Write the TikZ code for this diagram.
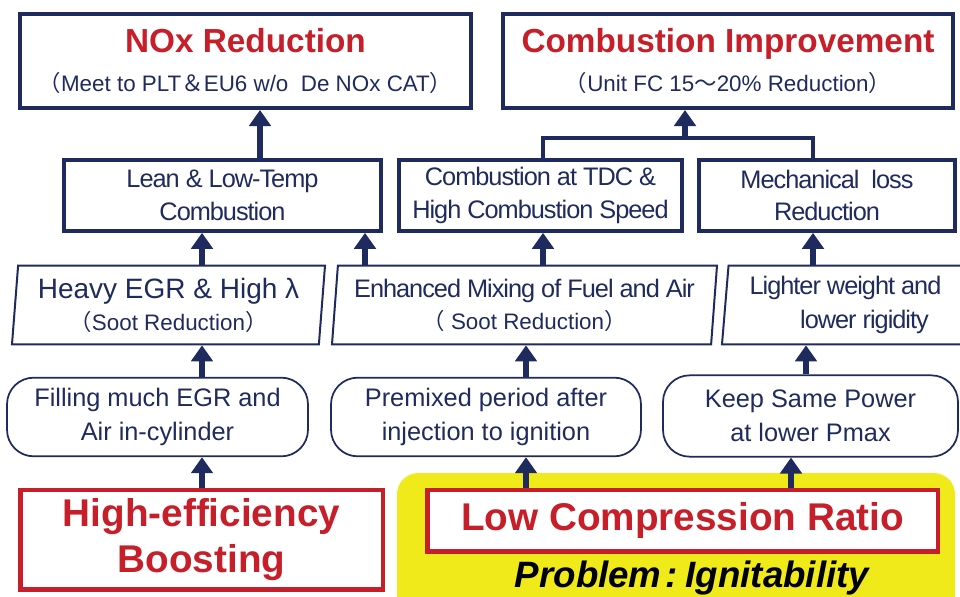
\documentclass[tikz,border=0pt]{standalone}
\usepackage{fontspec}
\setmainfont{Liberation Sans}
\newfontfamily\tightfont{Liberation Sans}[LetterSpace=-4]
\newfontfamily\cjk{Noto Sans CJK JP}
\usetikzlibrary{arrows.meta,shapes.geometric}
\definecolor{navy}{HTML}{1F2A5E}
\definecolor{ired}{HTML}{C61F2A}
\definecolor{hilite}{HTML}{F1EA1B}
\newcommand{\fwl}{{\cjk （}}
\newcommand{\fwr}{{\cjk ）}}

\begin{document}
\begin{tikzpicture}[x=0.75pt, y=-0.75pt, text=navy,
    goal/.style={draw=navy, line width=3pt, inner sep=0pt, align=center, minimum height=70.5pt,
      font=\fontsize{16.8}{29.5}\selectfont},
    effect/.style={draw=navy, line width=3pt, inner sep=0pt, align=center, minimum height=53pt,
      font=\tightfont\fontsize{19}{24.5}\selectfont},
    means/.style={trapezium, trapezium left angle=83.6, trapezium right angle=96.4,
      trapezium stretches body, draw=navy, line width=1.5pt, inner sep=0pt, align=center,
      minimum height=59pt},
    cause/.style={draw=navy, line width=1.3pt, rounded corners=20pt, inner sep=0pt, align=center,
      minimum height=59pt, font=\fontsize{19}{25.5}\selectfont},
    root/.style={draw=ired, line width=3.5pt, fill=white, inner sep=0pt, align=center, text=ired,
      font=\bfseries\fontsize{29}{34}\selectfont},
    arr/.style={draw=navy, line width=4pt, -{Triangle[length=12pt, width=16pt]}},
    bracket/.style={draw=navy, line width=3pt}]
  \useasboundingbox (0,0) rectangle (960,596);
  % yellow field behind the compression ratio box
  \node[fill=hilite, rounded corners=16pt, minimum width=418.5pt, minimum height=114pt] (field) at (676,549) {};

  % targets
  \node[goal, minimum width=338.25pt] (nox) at (245.5,61)
    {{\bfseries\color{ired}\fontsize{25}{29}\selectfont NOx Reduction}\\
     \fwl Meet to PLT{\cjk ＆}EU6 w/o\ \ De NOx CAT\fwr};
  \node[goal, minimum width=337.5pt] (cimp) at (728,61)
    {{\bfseries\color{ired}\fontsize{25}{29}\selectfont Combustion Improvement}\\
     \fwl Unit FC 15{\cjk ～}20\% Reduction\fwr};

  % effects
  \node[effect, minimum width=237.75pt] (lean) at (222.5,195.5) {Lean \& Low-Temp\\Combustion};
  \node[effect, minimum width=212.25pt] (tdc) at (540.5,195.5) {Combustion at TDC \&\\High Combustion Speed};
  \node[effect, minimum width=191.5pt] (mech) at (827,195.5) {Mechanical\ \ loss\\Reduction};

  % means
  \node[means, minimum width=234.75pt, font=\fontsize{16.8}{24}\selectfont] (heavy) at (168.5,305)
    {{\fontsize{21}{24}\selectfont Heavy EGR \& High λ}\\\fwl Soot Reduction\fwr};
  \node[means, minimum width=288.75pt, font=\fontsize{16.8}{24}\selectfont] (mix) at (524.5,305)
    {{\tightfont\fontsize{19}{24}\selectfont Enhanced Mixing of Fuel and Air}\\\fwl\ Soot Reduction\fwr};
  \node[means, minimum width=185.25pt, font=\tightfont\fontsize{19}{26}\selectfont] (light) at (845.5,305)
    {Lighter weight and\\\hspace{1.5em}lower rigidity};

  % causes
  \node[cause, minimum width=225.75pt] (fill) at (157.5,417) {Filling much EGR and\\Air in-cylinder};
  \node[cause, minimum width=232.5pt] (prem) at (486,417) {Premixed period after\\injection to ignition};
  \node[cause, minimum width=221.25pt, minimum height=61pt] (keep) at (810.5,416) {Keep Same Power\\at lower Pmax};

  % roots
  \node[root, minimum width=272pt, minimum height=74.5pt] (boost) at (201.5,539.5) {High-efficiency\\Boosting};
  \node[root, minimum width=383pt, minimum height=46pt] (lcr) at (682.5,520.5) {Low Compression Ratio};
  \node[text=black, font=\bfseries\itshape\fontsize{27.5}{31}\selectfont] (prob) at (692,578)
    {Problem\hspace{3pt}:\hspace{6pt}Ignitability};

  % connectors
  \draw[arr] (boost.north -| 202,0) -- (fill.south -| 202,0);
  \draw[arr] (lcr.north -| 526,0) -- (prem.south -| 526,0);
  \draw[arr] (lcr.north -| 791,0) -- (keep.south -| 791,0);
  \draw[arr] (fill.north -| 202,0) -- (heavy.south -| 202,0);
  \draw[arr] (prem.north -| 526,0) -- (mix.south -| 526,0);
  \draw[arr] (keep.north -| 806,0) -- (light.south -| 806,0);
  \draw[arr] (heavy.north -| 202,0) -- (lean.south -| 202,0);
  \draw[arr] (mix.north -| 365,0) -- (lean.south -| 365,0);
  \draw[arr] (mix.north -| 543,0) -- (tdc.south -| 543,0);
  \draw[arr] (light.north -| 813,0) -- (mech.south -| 813,0);
  \draw[arr] (lean.north -| 260,0) -- (nox.south -| 260,0);
  \coordinate (join) at (685,138);
  \draw[bracket] (tdc.north -| 543,0) |- (join) -| (mech.north -| 813,0);
  \draw[arr] (join) -- (cimp.south -| join);
\end{tikzpicture}
\end{document}
